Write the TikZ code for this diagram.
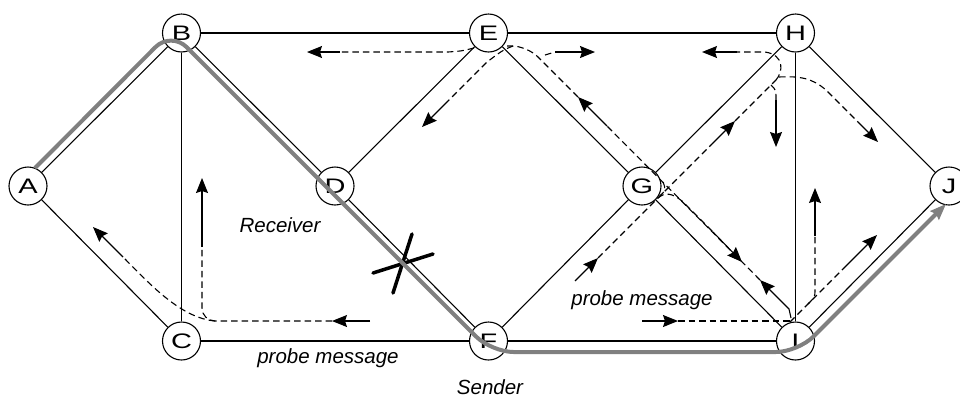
\documentclass[tikz,border=0pt]{standalone}
\usepackage{fontspec}
\setmainfont{Liberation Sans}
\newfontfamily\vertexfont[FakeStretch=1.38]{Liberation Sans}
\usetikzlibrary{arrows.meta}
\definecolor{routegray}{RGB}{128,128,128}
\begin{document}
\begin{tikzpicture}[x=1pt,y=-1pt,
  vertex/.style={circle, draw, line width=1.1pt, fill=white, minimum size=38pt, inner sep=0pt, font=\vertexfont\fontsize{21}{24}\selectfont},
  edge/.style={line width=1.1pt},
  probe/.style={line width=1.1pt, dash pattern=on 6.5pt off 4pt},
  parrow/.style={line width=1.1pt, -{Stealth[length=15pt,width=12pt,inset=2pt]}},
  route/.style={line width=4pt, draw=routegray, rounded corners=22pt, -{Stealth[length=16pt,width=12pt,inset=2pt]}},
  lbl/.style={font=\fontsize{20.5}{24}\selectfont\itshape, inner sep=0pt},
  crossline/.style={line width=3.5pt, line cap=round}]
\useasboundingbox (0,0) rectangle (960,397);

% nodes
\node[vertex] (A) at (28,186) {A};
\node[vertex] (B) at (181.5,33) {B};
\node[vertex] (C) at (181.5,341) {C};
\node[vertex] (D) at (335,186) {D};
\node[vertex] (E) at (488.5,33) {E};
\node[vertex] (F) at (488.5,341) {F};
\node[vertex] (G) at (642,186) {G};
\node[vertex] (H) at (795.5,33) {H};
\node[vertex] (I) at (795.5,341) {I};
\node[vertex] (J) at (949,186) {J};

% edges
\foreach \u/\v in {A/B,A/C,B/C,B/E,B/D,C/F,D/E,D/F,E/G,E/H,F/G,F/I,G/H,G/I,H/I,H/J,I/J}
  \draw[edge] (\u) -- (\v);

% probe messages: F -> C -> B / A
\draw[parrow] (370,321) -- (332,321);
\draw[probe, rounded corners=13pt] (332,321) -- (202,321) -- (202,247);
\draw[parrow] (202,247) -- (202,178);
\draw[probe] (215,321) .. controls (180,318) and (148,282) .. (123,257);
\draw[parrow] (123,257) -- (93,227);

% E floods
\draw[probe] (474,48) .. controls (462,51) .. (448,52) -- (340,52);
\draw[parrow] (340,52) -- (307,52);
\draw[probe] (513,46) .. controls (503,50) .. (487,62) -- (448,101);
\draw[parrow] (448,101) -- (422,127);
\draw[probe] (545,55) -- (555,52);
\draw[parrow] (555,52) -- (595,52);

% I -> G -> E
\draw[parrow] (791,318) -- (789,309) -- (760,280);
\draw[probe] (760,280) -- (607,126);
\draw[parrow] (607,126) -- (578,97);
\draw[probe, rounded corners=15pt] (578,97) -- (527,46) -- (507,46);

% F -> G -> H
\draw[parrow] (575,281) -- (598,258);
\draw[probe] (598,258) -- (712,144);
\draw[parrow] (712,144) -- (735,121);
\draw[probe] (735,121) -- (776,80);
\draw[probe] (776,80) .. controls (783,72) and (785,55) .. (765,52) -- (737,52);
\draw[parrow] (737,52) -- (702,52);
\draw[probe] (779,77) .. controls (800,76) and (812,78) .. (826,90) -- (858,122);
\draw[parrow] (858,122) -- (878,142);
\draw[probe] (771,85) .. controls (776,90) .. (776,100);
\draw[parrow] (776,100) -- (776,147);

% G -> I branch
\draw[probe] (663,182) .. controls (666,190) .. (659,197);
\draw[probe] (658,198) .. controls (665,192) and (672,193) .. (682,201) -- (713,232);
\draw[parrow] (713,232) -- (742,262);

% F -> I and I floods
\draw[parrow] (642,321) -- (678,321);
\draw[probe] (678,321) -- (790,321);
\draw[probe] (790,322) -- (843,269);
\draw[parrow] (843,269) -- (877,235);
\draw[probe] (808,304) .. controls (815,297) .. (815,290) -- (815,236);
\draw[parrow] (815,236) -- (815,188);

% failed link
\draw[crossline] (373,273) -- (433,254);
\draw[crossline] (412,234) -- (393,293);

% route
\coordinate (rs) at (35,168);
\coordinate (re) at (946,204);
\draw[route] (rs) -- (171,31.5) -- (491.5,352) -- (798,352) -- (re);

% labels
\node[lbl] (recv) at (280,225) {Receiver};
\node[lbl] (pm1) at (328,358) {probe message};
\node[lbl] (send) at (490,387) {Sender};
\node[lbl] (pm2) at (642,300) {probe message};
\end{tikzpicture}
\end{document}
